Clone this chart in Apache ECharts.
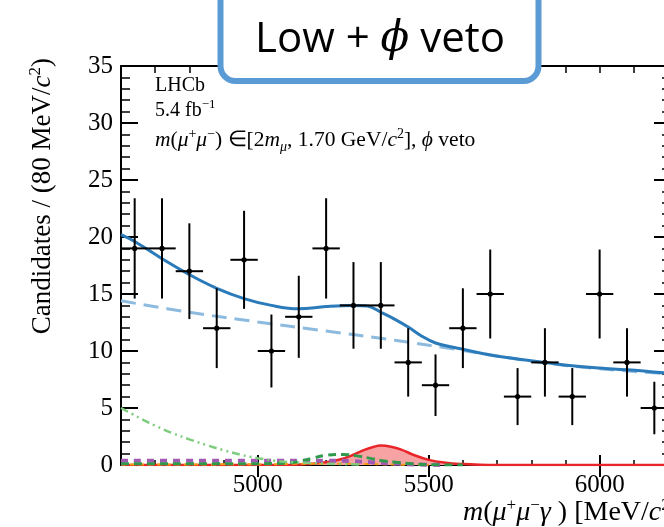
<!DOCTYPE html>
<html>
<head>
<meta charset="utf-8">
<script src="https://cdn.jsdelivr.net/npm/echarts@6/dist/echarts.min.js"></script>
<style>
  html, body { margin: 0; padding: 0; background: #fff; }
  #chart { width: 664px; height: 527px; }
</style>
</head>
<body>
<div id="chart"></div>
<script>
// Binned candidates, 80 MeV/c^2 per bin
const binCenters = [4640, 4720, 4800, 4880, 4960, 5040, 5120, 5200, 5280, 5360,
                    5440, 5520, 5600, 5680, 5760, 5840, 5920, 6000, 6080, 6160];
const candidates = [19, 19, 17, 12, 18, 10, 13, 19, 14, 14,
                    9, 7, 12, 15, 6, 9, 6, 15, 9, 5];
const candErr = [4.4, 4.4, 4.2, 3.5, 4.3, 3.2, 3.6, 4.4, 3.8, 3.8,
                 3.0, 2.7, 3.5, 3.9, 2.5, 3.0, 2.5, 3.9, 3.0, 2.3];
const binWidth = 80;

// Total fit
const fitMass = [4600, 4640, 4720, 4800, 4880, 4960, 5040, 5120, 5200, 5280,
                 5320, 5360, 5400, 5440, 5480, 5520, 5560, 5600, 5680, 5760,
                 5840, 5920, 6000, 6080, 6200];
const fitTotal = [20.2, 19.6, 18.1, 16.7, 15.5, 14.6, 14.0, 13.7, 13.9, 14.0,
                  13.95, 13.4, 12.8, 12.1, 11.3, 10.7, 10.4, 10.15, 9.65, 9.3,
                  9.0, 8.7, 8.5, 8.35, 8.05];

// Combinatorial background
const combMass = [4600, 4800, 5000, 5200, 5400, 5600, 5800, 6000, 6200];
const combFit = [14.4, 13.4, 12.55, 11.75, 10.95, 10.05, 9.1, 8.45, 8.0];

// Partially reconstructed background
const partMass = [4600, 4650, 4700, 4750, 4800, 4850, 4900, 4950, 5000, 5050, 5100, 5200, 5300];
const partFit = [5.0, 4.2, 3.45, 2.8, 2.25, 1.75, 1.3, 0.9, 0.6, 0.38, 0.24, 0.12, 0.05];

// Misidentified background
const misMass = [4600, 4800, 5000, 5200, 5280, 5340, 5400, 5460, 5550];
const misFit = [0.38, 0.38, 0.38, 0.38, 0.33, 0.22, 0.13, 0.05, 0];

// Peaking background
const peakMass = [4600, 5000, 5080, 5120, 5160, 5200, 5250, 5290, 5330, 5370, 5410, 5450, 5500, 5600];
const peakFit = [0.12, 0.12, 0.15, 0.3, 0.6, 0.85, 0.93, 0.8, 0.58, 0.35, 0.22, 0.1, 0.03, 0];

// Other small component
const otherMass = [4600, 5000, 5100, 5200, 5300, 5400, 5500];
const otherFit = [0.05, 0.06, 0.1, 0.12, 0.1, 0.04, 0];

// Signal
const sigMass = [4600, 5100, 5160, 5200, 5240, 5280, 5310, 5340, 5360, 5390,
                 5420, 5455, 5500, 5550, 5600, 5650, 5700, 6200];
const sigFit = [0, 0.02, 0.12, 0.25, 0.48, 0.9, 1.3, 1.6, 1.7, 1.6,
                1.35, 0.9, 0.45, 0.2, 0.08, 0.02, 0, 0];

// Axis ticks
const xMajorTicks = [5000, 5500, 6000];
const xMin = 4600, xMax = 6200;
const yMin = 0, yMax = 35;

const pairs = (xs, ys) => xs.map((x, i) => [x, ys[i]]);

const serif = '"Liberation Serif", "Times New Roman", serif';
const black = '#000';

function xAxisDef(position, opts) {
  return Object.assign({
    type: 'value', min: xMin, max: xMax, position: position,
    axisLine: { show: false },
    splitLine: { show: false },
    axisLabel: { show: false }
  }, opts);
}
function yAxisDef(position, opts) {
  return Object.assign({
    type: 'value', min: yMin, max: yMax, position: position,
    axisLine: { show: false },
    splitLine: { show: false },
    axisLabel: { show: false }
  }, opts);
}

const chart = echarts.init(document.getElementById('chart'), null, { renderer: 'canvas' });

const option = {
  backgroundColor: '#fff',
  animation: false,
  grid: { left: 121, top: 66, width: 547, height: 399, outerBoundsMode: 'none', containLabel: false },
  xAxis: [
    xAxisDef('bottom', {
      axisLine: { show: true, onZero: false, lineStyle: { color: black, width: 2 } },
      axisTick: { show: true, inside: true, length: 10, customValues: xMajorTicks, lineStyle: { color: black, width: 2 } },
      axisLabel: {
        show: true, customValues: xMajorTicks, color: black, fontFamily: serif, fontSize: 25, margin: 8,
        formatter: v => String(v)
      }
    }),
    xAxisDef('bottom', {
      interval: 100,
      axisTick: { show: true, inside: true, length: 5, lineStyle: { color: black, width: 1.5 } }
    }),
    xAxisDef('top', {
      interval: 100,
      axisLine: { show: true, onZero: false, lineStyle: { color: black, width: 2 } },
      axisTick: { show: true, inside: true, length: 7, lineStyle: { color: black, width: 1.5 } }
    }),
    xAxisDef('top', {
      axisTick: { show: true, inside: true, length: 12, customValues: xMajorTicks, lineStyle: { color: black, width: 2 } }
    })
  ],
  yAxis: [
    yAxisDef('left', {
      interval: 5,
      axisLine: { show: true, onZero: false, lineStyle: { color: black, width: 2 } },
      axisTick: { show: true, inside: true, length: 17, lineStyle: { color: black, width: 2 } },
      axisLabel: { show: true, color: black, fontFamily: serif, fontSize: 25, margin: 8 }
    }),
    yAxisDef('left', {
      interval: 1,
      axisTick: { show: true, inside: true, length: 9, lineStyle: { color: black, width: 1.5 } }
    }),
    yAxisDef('right', {
      interval: 5,
      axisLine: { show: true, onZero: false, lineStyle: { color: black, width: 2 } },
      axisTick: { show: true, inside: true, length: 14, lineStyle: { color: black, width: 2 } }
    }),
    yAxisDef('right', {
      interval: 1,
      axisTick: { show: true, inside: true, length: 6, lineStyle: { color: black, width: 1.5 } }
    })
  ],
  series: [
    {
      name: 'Signal', type: 'line', data: pairs(sigMass, sigFit), smooth: 0.4, showSymbol: false,
      lineStyle: { color: '#e8262a', width: 2.5 },
      areaStyle: { color: '#f7a3a3', opacity: 1 }, z: 2
    },
    {
      name: 'Other', type: 'line', data: pairs(otherMass, otherFit), smooth: 0.4, showSymbol: false,
      lineStyle: { color: '#f39c12', width: 2, type: [5, 4] }, z: 3
    },
    {
      name: 'Misidentified', type: 'line', data: pairs(misMass, misFit), smooth: 0.4, showSymbol: false,
      lineStyle: { color: '#a05ab4', width: 4, type: [7, 6] }, z: 3
    },
    {
      name: 'Peaking', type: 'line', data: pairs(peakMass, peakFit), smooth: 0.4, showSymbol: false,
      lineStyle: { color: '#2f9a4c', width: 3, type: [8, 5] }, z: 4
    },
    {
      name: 'Partially reconstructed', type: 'line', data: pairs(partMass, partFit), smooth: 0.4, showSymbol: false,
      lineStyle: { color: '#7fcc7f', width: 2.5, type: [8, 4, 2, 4, 2, 4] }, z: 4
    },
    {
      name: 'Combinatorial', type: 'line', data: pairs(combMass, combFit), smooth: 0.4, showSymbol: false,
      lineStyle: { color: '#8dbadf', width: 3, type: [15, 8] }, z: 5
    },
    {
      name: 'Total', type: 'line', data: pairs(fitMass, fitTotal), smooth: 0.4, showSymbol: false,
      lineStyle: { color: '#2b7bba', width: 3 }, z: 6
    },
    {
      name: 'Data', type: 'custom', z: 10,
      data: binCenters.map((m, i) => [m, candidates[i], candErr[i]]),
      renderItem: function (params, api) {
        const m = api.value(0), n = api.value(1), e = api.value(2);
        const c = api.coord([m, n]);
        const top = api.coord([m, n + e]);
        const bot = api.coord([m, n - e]);
        const lft = api.coord([m - binWidth / 2, n]);
        const rgt = api.coord([m + binWidth / 2, n]);
        const st = { stroke: black, lineWidth: 2 };
        return {
          type: 'group',
          children: [
            { type: 'line', shape: { x1: top[0], y1: top[1], x2: bot[0], y2: bot[1] }, style: st },
            { type: 'line', shape: { x1: lft[0], y1: lft[1], x2: rgt[0], y2: rgt[1] }, style: st },
            { type: 'circle', shape: { cx: c[0], cy: c[1], r: 2.6 }, style: { fill: black } }
          ]
        };
      }
    }
  ],
  graphic: [
    // LHCb label block
    {
      type: 'text', x: 155, y: 76, z: 50,
      style: { text: 'LHCb', fontFamily: serif, fontSize: 20, fill: black, verticalAlign: 'top' }
    },
    {
      type: 'text', x: 155, y: 98, z: 50,
      style: {
        text: '5.4 fb{sup|−1}', fontFamily: serif, fontSize: 20, fill: black, verticalAlign: 'top',
        rich: {
          sup: { fontFamily: serif, fontSize: 13, verticalAlign: 'top', lineHeight: 13 }
        },
        lineHeight: 26
      }
    },
    {
      type: 'text', x: 155, y: 127, z: 50,
      style: {
        text: '{i|m}({i|μ}{sup|+}{i|μ}{sup|−}) ∈[2{i|m}{sub|μ}, 1.70 GeV/{i|c}{sup|2}], {i|ϕ} veto',
        fontFamily: serif, fontSize: 21.5, fill: black, verticalAlign: 'top', lineHeight: 27,
        rich: {
          i: { fontFamily: serif, fontSize: 21.5, fontStyle: 'italic', fill: black },
          sup: { fontFamily: serif, fontSize: 14, verticalAlign: 'top', lineHeight: 14, fill: black },
          sub: { fontFamily: serif, fontSize: 14, fontStyle: 'italic', verticalAlign: 'bottom', lineHeight: 14, fill: black }
        }
      }
    },
    // Y axis title
    {
      type: 'text', x: 43, y: 58, rotation: Math.PI / 2, z: 50,
      style: {
        text: 'Candidates / (80 MeV/{i|c}{sup|2})',
        fontFamily: serif, fontSize: 27, fill: black, align: 'right', verticalAlign: 'middle', lineHeight: 32,
        rich: {
          i: { fontFamily: serif, fontSize: 27, fontStyle: 'italic', fill: black },
          sup: { fontFamily: serif, fontSize: 17, verticalAlign: 'top', lineHeight: 17, fill: black }
        }
      }
    },
    // X axis title
    {
      type: 'text', x: 463, y: 497, z: 50,
      style: {
        text: '{i|m}({i|μ}{sup|+}{i|μ}{sup|−}{i|γ} ) [MeV/{i|c}{sup|2}]',
        fontFamily: serif, fontSize: 28, fill: black, verticalAlign: 'top', lineHeight: 32,
        rich: {
          i: { fontFamily: serif, fontSize: 28, fontStyle: 'italic', fill: black },
          sup: { fontFamily: serif, fontSize: 17, verticalAlign: 'top', lineHeight: 17, fill: black }
        }
      }
    },
    // Selection badge
    {
      type: 'rect', z: 60,
      shape: { x: 220.5, y: -30, width: 318, height: 111, r: 15 },
      style: { fill: '#fff', stroke: '#5b9bd5', lineWidth: 6 }
    },
    {
      type: 'text', x: 380, y: 40, z: 61,
      style: {
        text: 'Low + {phi|ϕ} veto',
        fontFamily: '"Open Sans", sans-serif', fontSize: 42, fill: black,
        align: 'center', verticalAlign: 'middle',
        rich: {
          phi: { fontFamily: '"DejaVu Serif", serif', fontStyle: 'italic', fontSize: 42, fill: black }
        }
      }
    }
  ]
};

chart.setOption(option);
</script>
</body>
</html>
